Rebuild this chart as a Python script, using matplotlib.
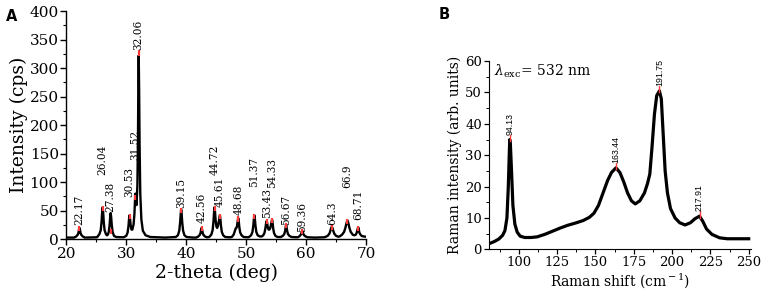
import matplotlib
matplotlib.use("Agg")
import matplotlib.pyplot as plt
from matplotlib.ticker import MultipleLocator

plt.rcParams['font.family'] = ['DejaVu Serif']
plt.rcParams['mathtext.fontset'] = 'dejavuserif'

# ---------------- Panel A: XRD ----------------
xrd_x = [20.0, 21.27, 21.62, 21.85, 21.99, 22.09, 22.17, 22.25, 22.35, 22.49, 22.72, 23.07, 25.0,
         25.14, 25.49, 25.72, 25.86, 25.96, 26.04, 26.12, 26.22, 26.36, 26.59, 26.75,
         26.9, 27.06, 27.2, 27.3, 27.38, 27.46, 27.56, 27.7, 27.93, 28.28, 29.5,
         29.63, 29.98, 30.21, 30.35, 30.45, 30.53, 30.61, 30.71, 30.85,
         31.0, 31.2, 31.34, 31.44, 31.52, 31.6, 31.7,
         31.84, 31.94, 31.99, 32.06, 32.13, 32.2, 32.32, 32.5, 32.75, 33.2, 34.0, 36.5,
         38.25, 38.6, 38.83, 38.97, 39.07, 39.15, 39.23, 39.33, 39.47, 39.7, 40.05, 41.2,
         41.66, 42.01, 42.24, 42.38, 42.48, 42.56, 42.64, 42.74, 42.88, 43.11, 43.46,
         43.82, 44.17, 44.4, 44.54, 44.64, 44.72, 44.8, 44.9, 45.04, 45.16,
         45.3, 45.43, 45.53, 45.61, 45.69, 45.79, 45.93, 46.16, 46.51, 47.3,
         47.6, 47.9, 48.1, 48.25, 48.38, 48.48, 48.6, 48.68, 48.76, 48.86, 49.0, 49.23, 49.58, 50.3,
         50.47, 50.82, 51.05, 51.19, 51.29, 51.37, 51.45, 51.55, 51.69, 51.92, 52.27, 52.6,
         52.85, 53.05, 53.19, 53.29, 53.35, 53.43, 53.51, 53.61, 53.75, 53.88,
         54.03, 54.15, 54.25, 54.33, 54.41, 54.51, 54.65, 54.88, 55.23, 55.6,
         55.77, 56.12, 56.35, 56.49, 56.59, 56.67, 56.75, 56.85, 56.99, 57.22, 57.57, 58.5,
         58.6, 58.85, 59.04, 59.18, 59.28, 59.36, 59.44, 59.54, 59.68, 59.91, 60.26, 61.5, 63.0,
         63.2, 63.6, 63.9, 64.06, 64.2, 64.3, 64.4, 64.54, 64.7, 65.0, 65.4,
         65.6, 66.0, 66.35, 66.56, 66.76, 66.9, 67.04, 67.24, 67.45, 67.8, 68.05,
         68.3, 68.47, 68.61, 68.71, 68.79, 68.89, 69.03, 69.26, 69.6, 70.0]
xrd_y = [3, 3, 5, 7.5, 11, 17, 20, 17, 11, 7.5, 5, 3, 3.5,
         4, 9, 16, 31, 48, 56, 48, 31, 16, 9, 7,
         8, 13, 25, 39, 46, 39, 25, 13, 6, 4, 3.5,
         4, 6, 12, 23, 36, 42, 36, 25, 17,
         17, 26, 44, 68, 80, 70, 60,
         95, 180, 260, 322, 260, 170, 80, 35, 15, 7, 4, 3,
         4, 7, 15, 29, 44, 52, 44, 29, 15, 7, 4, 3,
         3, 5, 7.5, 11, 17, 20, 17, 11, 7.5, 5, 3.5,
         4, 8, 16, 31, 48, 56, 48, 33, 22, 20,
         24, 31, 37, 42, 36, 24, 13, 7, 4, 3.5,
         4, 8, 14, 19, 20, 24, 33, 37, 32, 21, 12, 7, 4, 3.5,
         4, 7, 13, 24, 36, 42, 36, 24, 13, 7, 5, 5,
         7, 11, 18, 26, 30, 32, 28, 21, 17, 17,
         20, 26, 31, 34, 29, 19, 11, 6, 4, 4,
         4, 6, 9, 14, 21, 25, 21, 14, 9, 6, 4, 3.5,
         3.5, 5, 7, 9.5, 13, 15, 13, 9.5, 7, 5, 3.5, 3, 3.5,
         4, 6, 10, 15, 20, 22, 20, 15, 10, 6, 4.5,
         5, 8, 13, 20, 29, 33, 29, 20, 13, 8, 7,
         8, 12, 18, 21, 18, 12, 9, 6, 5, 4.5]

xrd_peaks = [22.17, 26.04, 27.38, 30.53, 31.52, 32.06, 39.15, 42.56, 44.72, 45.61,
             48.68, 51.37, 53.43, 54.33, 56.67, 59.36, 64.3, 66.9, 68.71]
xrd_peak_labels = ["22.17", "26.04", "27.38", "30.53", "31.52", "32.06", "39.15", "42.56",
                   "44.72", "45.61", "48.68", "51.37", "53.43", "54.33", "56.67", "59.36",
                   "64.3", "66.9", "68.71"]
xrd_mark_y = [20, 56, 15, 42, 75, 328, 52, 20, 56, 42, 37, 42, 32, 34, 25, 15, 22, 33, 21]
xrd_label_y = [25, 113, 48, 74, 139, 332, 55, 28, 113, 57, 43, 92, 37, 90, 25, 13, 25, 90, 34]

# ---------------- Panel B: Raman ----------------
raman_x = [80.5, 84, 87, 89.5, 91, 92.3, 93.2, 93.8, 94.13, 94.6, 95.3, 96.2, 97.5, 99, 101,
           104, 108, 112, 117, 122, 127, 132, 137, 142, 146, 149, 152, 155, 158, 160.5,
           163.44, 166, 168.5, 171, 173.5, 176, 179, 182, 184, 185.5, 187, 188.5, 190,
           191.75, 193, 194.3, 195.5, 197, 199, 202, 205, 208.5, 212, 215, 217.91,
           220, 222.5, 226, 231, 236, 242, 250]
raman_y = [1.8, 2.5, 3.3, 4.5, 6, 10, 20, 30, 35, 33, 25, 14, 8, 5.5, 4.2,
           3.8, 3.8, 4.0, 4.8, 5.8, 6.8, 7.7, 8.4, 9.2, 10.2, 11.5, 14, 18, 22, 24.5,
           26, 24.5, 21.5, 18, 15.5, 14.5, 15.5, 18, 21, 24, 33, 43, 49,
           50.5, 48, 36, 25, 18, 13, 10, 8.5, 7.8, 8.5, 9.8, 10.6,
           9, 6.5, 4.8, 3.7, 3.4, 3.4, 3.4]
raman_peaks = [94.13, 163.44, 191.75, 217.91]
raman_peak_labels = ["94.13", "163.44", "191.75", "217.91"]
raman_peak_y = [35, 26, 50.5, 10.6]

fig = plt.figure(figsize=(7.65, 2.98), dpi=100)

# ---- A ----
axA = fig.add_axes([0.0869, 0.197, 0.3915, 0.766])
axA.plot(xrd_x, xrd_y, color='black', lw=1.7, zorder=2)
for p, my in zip(xrd_peaks, xrd_mark_y):
    axA.plot([p, p], [my - 6, my + 3], color='#ff3b3b', lw=1.6, zorder=3, solid_capstyle='butt')
for p, lab, ly in zip(xrd_peaks, xrd_peak_labels, xrd_label_y):
    axA.text(p, ly, lab, rotation=90, ha='center', va='bottom', fontsize=7.6,
             family='DejaVu Serif')
axA.set_xlim(20, 70)
axA.set_ylim(0, 400)
axA.xaxis.set_major_locator(MultipleLocator(10))
axA.xaxis.set_minor_locator(MultipleLocator(5))
axA.yaxis.set_major_locator(MultipleLocator(50))
axA.yaxis.set_minor_locator(MultipleLocator(25))
axA.set_xlabel('2-theta (deg)', fontsize=13.5, labelpad=2)
axA.set_ylabel('Intensity (cps)', fontsize=13.5, labelpad=1)
axA.tick_params(axis='both', which='major', direction='out', length=4, width=1, labelsize=11, pad=1.5)
axA.tick_params(axis='both', which='minor', direction='out', length=2.5, width=0.8)
for s in ['top', 'right']:
    axA.spines[s].set_visible(False)
for s in ['left', 'bottom']:
    axA.spines[s].set_linewidth(1.0)
fig.text(0.008, 0.97, 'A', fontsize=10.5, fontweight='bold', family='DejaVu Sans', va='top', ha='left')

# ---- B ----
axB = fig.add_axes([0.639, 0.163, 0.3427, 0.632])
axB.plot(raman_x, raman_y, color='black', lw=2.3, zorder=2)
for p, py, lab in zip(raman_peaks, raman_peak_y, raman_peak_labels):
    axB.plot([p, p], [py - 0.5, py + 1.5], color='#ff3b3b', lw=1.0, zorder=3)
    axB.text(p, py + 1.5, lab, rotation=90, ha='center', va='bottom', fontsize=6.3,
             family='Liberation Sans')
axB.text(84, 55.3, r'$\lambda_{\rm exc}$= 532 nm', fontsize=10, ha='left', va='baseline')
axB.set_xlim(80.5, 251.5)
axB.set_ylim(0, 60)
axB.xaxis.set_major_locator(MultipleLocator(25))
axB.xaxis.set_minor_locator(MultipleLocator(12.5))
axB.yaxis.set_major_locator(MultipleLocator(10))
axB.yaxis.set_minor_locator(MultipleLocator(5))
axB.set_xticks([100, 125, 150, 175, 200, 225, 250])
axB.set_xlabel(r'Raman shift (cm$^{\rm -1}$)', fontsize=10, labelpad=1)
axB.set_ylabel('Raman intensity (arb. units)', fontsize=10, labelpad=2)
axB.tick_params(axis='both', which='major', direction='out', length=3.5, width=0.9, labelsize=9.5, pad=1.5)
axB.tick_params(axis='both', which='minor', direction='out', length=2, width=0.7)
for s in ['top', 'right']:
    axB.spines[s].set_visible(False)
fig.text(0.573, 0.975, 'B', fontsize=10.5, fontweight='bold', family='DejaVu Sans', va='top', ha='left')

fig.savefig('out.png', dpi=100)
